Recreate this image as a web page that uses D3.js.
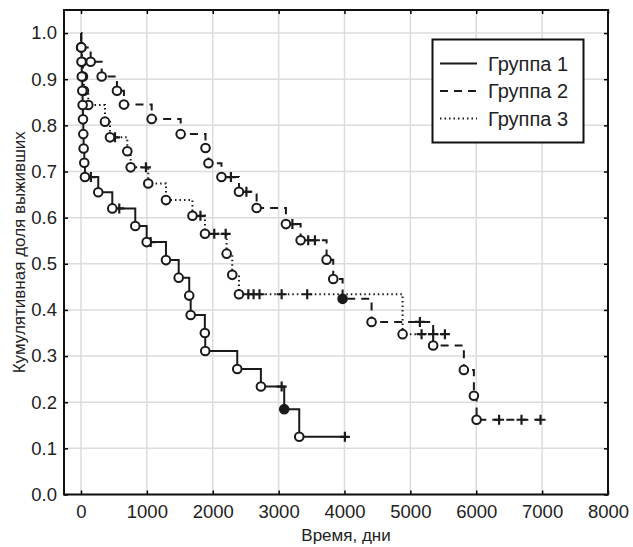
<!DOCTYPE html>
<html>
<head>
<meta charset="utf-8">
<script src="https://cdn.jsdelivr.net/npm/d3@7"></script>
<style>
  body { margin: 0; background: #fff; }
  text { font-family: "Liberation Sans", Arial, sans-serif; }
</style>
</head>
<body>
<div id="chart"></div>
<script>
// Kaplan-Meier steps: event times (days) and survival after each event
var g1Times = [5, 8, 12, 20, 25, 30, 35, 40, 50, 60, 262, 475, 824, 997, 1290, 1483, 1643, 1665, 1880, 1886, 2372, 2731, 3085, 3313];
var g1Surv  = [0.969, 0.938, 0.906, 0.875, 0.844, 0.813, 0.781, 0.75, 0.719, 0.688, 0.655, 0.62, 0.582, 0.547, 0.508, 0.47, 0.431, 0.389, 0.35, 0.311, 0.272, 0.234, 0.185, 0.125];
var g1Censor = [150, 581, 1058, 3046, 4006];
var g1Filled = [3085];

var g2Times = [2, 147, 314, 546, 652, 1073, 1513, 1890, 1935, 2132, 2398, 2666, 3111, 3334, 3728, 3829, 3971, 4411, 5346, 5812, 5964, 6005];
var g2Surv  = [0.969, 0.938, 0.906, 0.875, 0.845, 0.814, 0.781, 0.751, 0.718, 0.688, 0.656, 0.621, 0.586, 0.551, 0.509, 0.467, 0.424, 0.374, 0.323, 0.27, 0.214, 0.162];
var g2Censor = [2276, 2511, 3209, 3449, 3551, 5144, 6347, 6687, 6976];
var g2Filled = [3971];

var g3Times = [3, 15, 30, 45, 111, 364, 440, 703, 754, 1021, 1290, 1692, 1882, 2211, 2296, 2398, 4882];
var g3Surv  = [0.969, 0.938, 0.906, 0.875, 0.844, 0.808, 0.774, 0.744, 0.709, 0.674, 0.638, 0.604, 0.565, 0.522, 0.476, 0.434, 0.3475];
var g3Censor = [516, 986, 1813, 2023, 2196, 2540, 2620, 2710, 3046, 3434, 5170, 5346, 5524];
var g3Filled = [];

var groupNames = ["Группа 1", "Группа 2", "Группа 3"];
var xTicks = [0, 1000, 2000, 3000, 4000, 5000, 6000, 7000, 8000];
var yTicks = [0, 0.1, 0.2, 0.3, 0.4, 0.5, 0.6, 0.7, 0.8, 0.9, 1.0];

var width = 633, height = 547;
var plotLeft = 64, plotRight = 608, plotTop = 10, plotBottom = 494.5;

var x = d3.scaleLinear().domain([-258, 8000]).range([plotLeft, plotRight]);
var y = d3.scaleLinear().domain([0, 1.05]).range([plotBottom, plotTop]);

var svg = d3.select("#chart").append("svg")
    .attr("width", width)
    .attr("height", height);

// grid
svg.append("g").selectAll("line").data(xTicks).enter()
    .append("line")
    .attr("x1", function(d){ return x(d); })
    .attr("x2", function(d){ return x(d); })
    .attr("y1", plotTop).attr("y2", plotBottom)
    .style("stroke", "#dcdcdc").style("stroke-width", 1.5);
svg.append("g").selectAll("line").data(yTicks).enter()
    .append("line")
    .attr("y1", function(d){ return y(d); })
    .attr("y2", function(d){ return y(d); })
    .attr("x1", plotLeft).attr("x2", plotRight)
    .style("stroke", "#dcdcdc").style("stroke-width", 1.5);

// axes (labels + inward ticks)
svg.append("g")
    .attr("transform", "translate(0," + plotBottom + ")")
    .call(d3.axisBottom(x).tickValues(xTicks).tickFormat(d3.format("d")).tickSizeInner(-4).tickSizeOuter(0).tickPadding(10));
svg.append("g")
    .attr("transform", "translate(" + plotLeft + ",0)")
    .call(d3.axisLeft(y).tickValues(yTicks).tickFormat(d3.format(".1f")).tickSizeInner(-4).tickSizeOuter(0).tickPadding(7));
svg.append("g")
    .attr("transform", "translate(0," + plotTop + ")")
    .call(d3.axisTop(x).tickValues(xTicks).tickFormat("").tickSizeInner(-4).tickSizeOuter(0));
svg.append("g")
    .attr("transform", "translate(" + plotRight + ",0)")
    .call(d3.axisRight(y).tickValues(yTicks).tickFormat("").tickSizeInner(-4).tickSizeOuter(0));
svg.selectAll(".domain").remove();
svg.selectAll(".tick line").style("stroke", "#000").style("stroke-width", 1.5);
svg.selectAll(".tick text").style("font-size", "18.5px").style("fill", "#222")
    .style("font-family", "'Liberation Sans', Arial, sans-serif");

// frame
svg.append("rect")
    .attr("x", plotLeft).attr("y", plotTop)
    .attr("width", plotRight - plotLeft).attr("height", plotBottom - plotTop)
    .style("fill", "none").style("stroke", "#111").style("stroke-width", 2);

// axis titles
svg.append("text")
    .attr("x", (plotLeft + plotRight) / 2 + 10).attr("y", 541)
    .style("font-size", "17px").style("fill", "#222")
    .style("text-anchor", "middle")
    .text("Время, дни");
svg.append("text")
    .attr("transform", "translate(19," + ((plotTop + plotBottom) / 2) + ") rotate(-90)")
    .style("font-size", "17px").style("fill", "#222")
    .style("text-anchor", "middle")
    .attr("dy", "0.35em")
    .text("Кумулятивная доля выживших");

var dashes = ["none", "8,6", "1.5,3"];

function survAt(times, surv, t) {
    var s = 1;
    for (var i = 0; i < times.length; i++) {
        if (times[i] <= t) s = surv[i];
    }
    return s;
}

function drawGroup(times, surv, censor, filled, dash) {
    var pts = [[0, 1]];
    for (var i = 0; i < times.length; i++) pts.push([times[i], surv[i]]);
    var endT = Math.max(times[times.length - 1], d3.max(censor));
    pts.push([endT, surv[surv.length - 1]]);

    var line = d3.line()
        .x(function(d){ return x(d[0]); })
        .y(function(d){ return y(d[1]); })
        .curve(d3.curveStepAfter);

    var g = svg.append("g");
    g.append("path")
        .attr("d", line(pts))
        .style("fill", "none")
        .style("stroke", "#1a1a1a")
        .style("stroke-width", 2)
        .style("stroke-dasharray", dash);

    // censored marks
    g.selectAll("path.cens").data(censor).enter()
        .append("path")
        .attr("class", "cens")
        .attr("d", function(t){
            var cx = x(t), cy = y(survAt(times, surv, t));
            return "M" + (cx - 5) + "," + cy + "H" + (cx + 5) + "M" + cx + "," + (cy - 5) + "V" + (cy + 5);
        })
        .style("stroke", "#1a1a1a")
        .style("stroke-width", 2.2);

    // event circles
    g.selectAll("circle").data(times).enter()
        .append("circle")
        .attr("cx", function(d){ return x(d); })
        .attr("cy", function(d, i){ return y(surv[i]); })
        .attr("r", 4.3)
        .style("fill", function(d){ return filled.indexOf(d) >= 0 ? "#1a1a1a" : "#fff"; })
        .style("stroke", "#1a1a1a")
        .style("stroke-width", 2);
}

drawGroup(g3Times, g3Surv, g3Censor, g3Filled, dashes[2]);
drawGroup(g2Times, g2Surv, g2Censor, g2Filled, dashes[1]);
drawGroup(g1Times, g1Surv, g1Censor, g1Filled, dashes[0]);

// legend
var legend = svg.append("g");
legend.append("rect")
    .attr("x", 432.5).attr("y", 39.5)
    .attr("width", 151).attr("height", 103)
    .style("fill", "#fff").style("stroke", "#111").style("stroke-width", 2);
legend.selectAll("line").data(groupNames).enter()
    .append("line")
    .attr("x1", 440).attr("x2", 477)
    .attr("y1", function(d, i){ return 63.5 + i * 27.5; })
    .attr("y2", function(d, i){ return 63.5 + i * 27.5; })
    .style("stroke", "#1a1a1a").style("stroke-width", 2)
    .style("stroke-dasharray", function(d, i){ return dashes[i]; });
legend.selectAll("text").data(groupNames).enter()
    .append("text")
    .attr("x", 488)
    .attr("y", function(d, i){ return 63.5 + i * 27.5; })
    .attr("dy", "0.35em")
    .style("font-size", "20px").style("fill", "#222")
    .text(function(d){ return d; });
</script>
</body>
</html>
